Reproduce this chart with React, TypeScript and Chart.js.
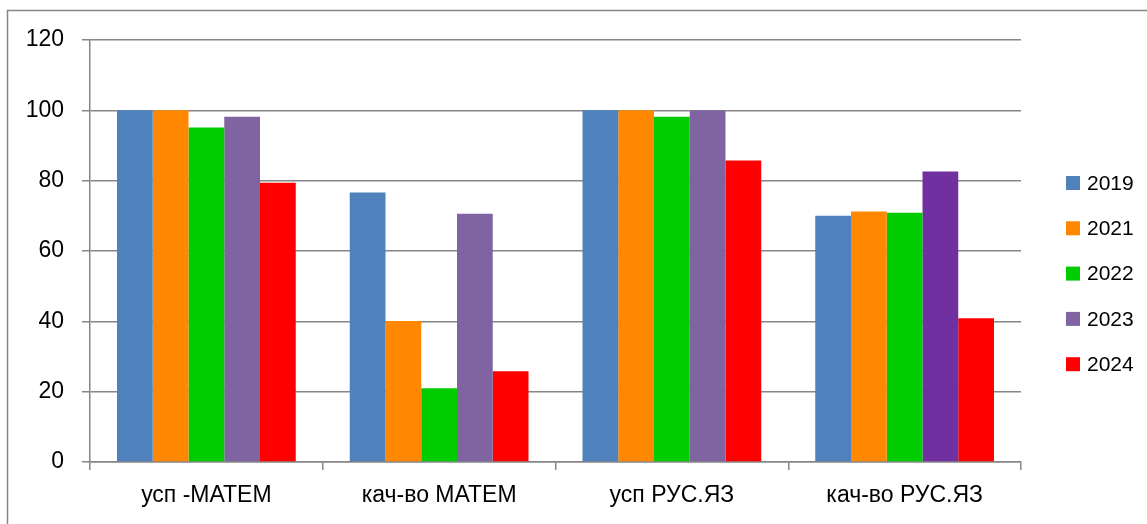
import React, { useEffect, useRef } from "react";
import { Chart, registerables } from "chart.js";

Chart.register(...registerables);

const categories = ["усп -МАТЕМ", "кач-во МАТЕМ", "усп РУС.ЯЗ", "кач-во РУС.ЯЗ"];
const seriesNames = ["2019", "2021", "2022", "2023", "2024"];
const values2019 = [100, 76.6, 100, 70.0];
const values2021 = [100, 40.1, 100, 71.2];
const values2022 = [95.1, 21.0, 98.2, 70.9];
const values2023 = [98.2, 70.6, 100, 82.6];
const values2024 = [79.4, 25.8, 85.7, 40.9];
const seriesColors = ["#4F81BD", "#FF8800", "#00CC00", "#8064A2", "#FF0000"];
const bar2023Colors = ["#8064A2", "#8064A2", "#8064A2", "#7030A0"];
const yTicks = [0, 20, 40, 60, 80, 100, 120];

const FONT = "'Liberation Sans', Arial, sans-serif";

export default function App() {
  const ref = useRef<HTMLCanvasElement | null>(null);

  useEffect(() => {
    if (!ref.current) return;
    const all = [values2019, values2021, values2022, values2023, values2024];

    const framePlugin = {
      id: "frame",
      beforeDraw(chart: any) {
        const ctx = chart.ctx;
        ctx.save();
        ctx.fillStyle = "#ffffff";
        ctx.fillRect(0, 0, chart.width, chart.height);
        ctx.strokeStyle = "#868686";
        ctx.lineWidth = 1.5;
        ctx.strokeRect(7.5, 10.5, chart.width + 20, chart.height + 20);
        ctx.restore();
      },
      afterDraw(chart: any) {
        const ctx = chart.ctx;
        ctx.save();
        ctx.font = `21px ${FONT}`;
        ctx.textBaseline = "middle";
        const x0 = 1066;
        const y0 = 183;
        const step = 45.3;
        seriesNames.forEach((name, i) => {
          const y = y0 + i * step;
          ctx.fillStyle = seriesColors[i];
          ctx.fillRect(x0, y - 7, 14, 14);
          ctx.fillStyle = "#000000";
          ctx.fillText(name, x0 + 21, y + 1);
        });
        ctx.restore();
      },
    };

    const chart = new Chart(ref.current, {
      type: "bar",
      data: {
        labels: categories,
        datasets: seriesNames.map((name, i) => ({
          label: name,
          data: all[i],
          backgroundColor: i === 3 ? bar2023Colors : seriesColors[i],
          borderWidth: 0,
          categoryPercentage: 0.768,
          barPercentage: 1,
        })),
      },
      options: {
        animation: false,
        responsive: false,
        maintainAspectRatio: false,
        devicePixelRatio: 1,
        layout: { padding: { left: 10, top: 40, right: 126, bottom: 12 } },
        plugins: {
          legend: { display: false },
          tooltip: { enabled: false },
        },
        scales: {
          x: {
            grid: {
              offset: true,
              drawOnChartArea: false,
              drawTicks: true,
              tickLength: 8,
              color: "#868686",
              lineWidth: 1.5,
            },
            border: { color: "#868686", width: 1.5 },
            ticks: {
              font: { family: FONT, size: 23 },
              color: "#000000",
              padding: 12,
            },
            afterFit(scale: any) {
              scale.height = 50;
            },
          },
          y: {
            min: 0,
            max: 120,
            afterBuildTicks(scale: any) {
              scale.ticks = yTicks.map((v) => ({ value: v }));
            },
            grid: {
              color: "#868686",
              lineWidth: 1.5,
              tickLength: 8,
            },
            border: { color: "#868686", width: 1.5 },
            ticks: {
              font: { family: FONT, size: 23 },
              color: "#000000",
              padding: 18,
            },
            afterFit(scale: any) {
              scale.width = 80;
            },
          },
        },
      },
      plugins: [framePlugin],
    });
    return () => chart.destroy();
  }, []);

  return (
    <div style={{ position: "absolute", left: 0, top: 0, width: 1147, height: 524 }}>
      <canvas ref={ref} width={1147} height={524} style={{ width: 1147, height: 524 }} />
    </div>
  );
}
